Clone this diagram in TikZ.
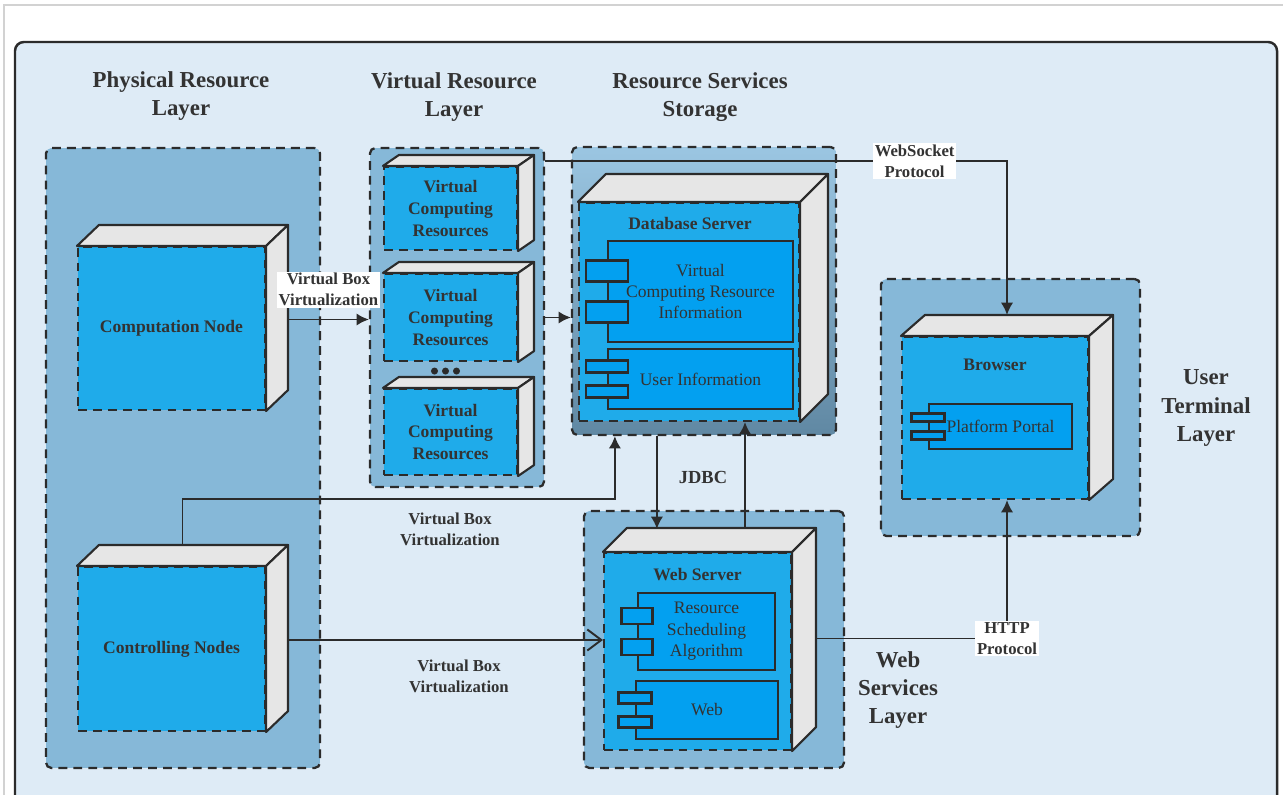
\documentclass[tikz,border=0pt]{standalone}
\usepackage{fontspec}
\setmainfont{Liberation Serif}
\usepackage{tikz}
\usetikzlibrary{arrows.meta,calc,positioning}

\definecolor{linec}{RGB}{43,43,43}
\definecolor{paper}{RGB}{222,235,246}
\definecolor{grpblue}{RGB}{134,184,216}
\definecolor{nodeblue}{RGB}{31,171,234}
\definecolor{compblue}{RGB}{3,160,240}
\definecolor{facegray}{RGB}{230,230,230}
\definecolor{txt}{RGB}{51,51,51}

\tikzset{%
	grpbox/.style    = {draw=linec, fill=grpblue, line width=1.3pt, dash pattern=on 5pt off 3.5pt, rounded corners=3pt, inner sep=0pt},
	frontbox/.style  = {draw=linec, fill=nodeblue, line width=1.2pt, dash pattern=on 5pt off 3.5pt, inner sep=0pt, text=txt, align=center, font=\fontsize{10}{12.5}\selectfont\bfseries},
	sideface/.style  = {draw=linec, fill=facegray, line width=1.2pt, line join=round},
	compbox/.style   = {draw=linec, fill=compblue, line width=1.2pt, inner sep=0pt, text=txt, align=center, font=\fontsize{10}{12.2}\selectfont},
	tabbox/.style    = {draw=linec, fill=compblue, line width=1.2pt},
	laytitle/.style  = {text=txt, align=center, font=\fontsize{13}{16}\selectfont\bfseries},
	nodetitle/.style = {text=txt, font=\fontsize{10}{12}\selectfont\bfseries},
	vlabel/.style    = {text=txt, align=center, font=\fontsize{9.5}{12}\selectfont\bfseries, inner sep=1pt},
	plabel/.style    = {vlabel, fill=white},
	arrow/.style     = {draw=linec, line width=1.1pt, -{Latex[length=7pt,width=7pt]}},
	openarrow/.style = {draw=linec, line width=1.1pt, -{Straight Barb[length=8pt,width=12pt,line width=1.1pt]}},
}

% top and side faces of a 3d node
\newcommand{\boxsides}[3]{%
	\draw[sideface] (#1.north west) -- ++(#2,#3) -- ($(#1.north east)+(#2,#3)$) -- (#1.north east) -- cycle;
	\draw[sideface] (#1.north east) -- ++(#2,#3) -- ($(#1.south east)+(#2,#3)$) -- (#1.south east) -- cycle;}
% the two small tabs of a component
\newcommand{\comptabs}[4]{%
	\foreach \s in {-1,1}
		\draw[tabbox] ($(#1.west)+(-#2/2,\s*#4-#3/2)$) rectangle ++(#2,#3);}

\begin{document}
\begin{tikzpicture}[x=0.02cm,y=-0.02cm]
	\useasboundingbox (0,0) rectangle (1283,794);
	\clip (0,0) rectangle (1283,794);
	\fill[white] (0,0) rectangle (1283,794);
	\draw[gray!35, line width=0.6pt] (4,800) -- (4,5) -- (1290,5);
	\draw[draw=linec, fill=paper, line width=1.4pt, rounded corners=5pt] (15,42) rectangle (1277,860);

	\node [laytitle] (tphys) at (181,96) {Physical Resource\\Layer};
	\node [laytitle] (tvirt) at (454,97) {Virtual Resource\\Layer};
	\node [laytitle] (tstore) at (700,97) {Resource Services\\Storage};
	\node [laytitle] (tterm) at (1206,408) {User\\Terminal\\Layer};
	\node [laytitle] (tweb) at (898,690) {Web\\Services\\Layer};

	\node [grpbox, minimum width=5.48cm, minimum height=12.4cm] (physgrp) at (183,458) {};
	\node [grpbox, minimum width=3.48cm, minimum height=6.78cm] (virtgrp) at (457,317.5) {};
	\node [grpbox, top color={rgb,255:red,155;green,198;blue,226}, bottom color={rgb,255:red,96;green,136;blue,163}, minimum width=5.28cm, minimum height=5.76cm] (storegrp) at (704,291) {};
	\node [grpbox, minimum width=5.18cm, minimum height=5.14cm] (termgrp) at (1010.5,407.5) {};
	\node [grpbox, minimum width=5.2cm, minimum height=5.14cm] (webgrp) at (714,639.5) {};

	% physical nodes
	\node [frontbox, minimum width=3.74cm, minimum height=3.26cm] (comp) at (171.5,328.5) {Computation Node};
	\boxsides{comp}{22}{-21}
	\node [frontbox, minimum width=3.74cm, minimum height=3.28cm] (ctrl) at (171.5,649) {Controlling Nodes};
	\boxsides{ctrl}{22}{-21}

	% virtual resources
	\node [frontbox, minimum width=2.66cm, minimum height=1.66cm] (vcr1) at (450.5,208.5) {Virtual\\Computing\\Resources};
	\boxsides{vcr1}{16}{-11}
	\node [frontbox, minimum width=2.66cm, minimum height=1.74cm] (vcr2) at (450.5,317.5) {Virtual\\Computing\\Resources};
	\boxsides{vcr2}{16}{-11}
	\node [frontbox, minimum width=2.66cm, minimum height=1.72cm] (vcr3) at (450.5,432) {Virtual\\Computing\\Resources};
	\boxsides{vcr3}{16}{-11}
	\foreach \dx in {-11,0,11}
		\fill[linec] ($(vcr2.south)+(\dx-5,9)$) circle (2pt);

	% database server
	\node [frontbox, minimum width=4.4cm, minimum height=4.36cm] (db) at (689,312) {};
	\boxsides{db}{28}{-28}
	\node [nodetitle] (dbname) at ($(db.north)+(1,22)$) {Database Server};
	\node [compbox, minimum width=3.7cm, minimum height=2.02cm] (vcrinfo) at (700.5,291.5) {Virtual\\Computing Resource\\Information};
	\comptabs{vcrinfo}{42}{21}{20.5}
	\node [compbox, minimum width=3.7cm, minimum height=1.2cm] (userinfo) at (700.5,379) {User Information};
	\comptabs{userinfo}{42}{12}{12.5}

	% browser
	\node [frontbox, minimum width=3.72cm, minimum height=3.24cm] (browser) at (995,418) {};
	\boxsides{browser}{24}{-21}
	\node [nodetitle] (brname) at ($(browser.north)+(0,29)$) {Browser};
	\node [compbox, minimum width=2.86cm, minimum height=0.9cm] (portal) at (1000.5,426.5) {Platform Portal};
	\comptabs{portal}{33}{8}{9}

	% web server
	\node [frontbox, minimum width=3.74cm, minimum height=3.94cm] (websrv) at (697.5,651.5) {};
	\boxsides{websrv}{24}{-24}
	\node [nodetitle] (wsname) at ($(websrv.north)+(0,23)$) {Web Server};
	\node [compbox, minimum width=2.74cm, minimum height=1.54cm] (rsa) at (706.5,631.5) {Resource\\Scheduling\\Algorithm};
	\comptabs{rsa}{31}{16}{15.5}
	\node [compbox, minimum width=2.84cm, minimum height=1.16cm] (web) at (707,710) {Web};
	\comptabs{web}{33}{11}{12}

	% connectors
	\draw[arrow] ($(comp.east)+(22,-9)$) coordinate (c1) -- node[plabel, above=6pt] (vb1) {Virtual Box\\Virtualization} (c1 -| virtgrp.west);
	\draw[arrow] (virtgrp.east) -- (virtgrp.east -| storegrp.west);
	\draw[arrow] ($(virtgrp.north east)+(0,14)$) -| node[plabel, pos=0.4] (wsp) {WebSocket\\Protocol} ($(browser.north)+(12,-21)$);
	\draw[arrow] ($(ctrl.north)+(11,-21)$) |- ($(storegrp.south west)+(44,63)$) -- ($(storegrp.south west)+(44,0)$);
	\node [vlabel] (vb2) at (450,529) {Virtual Box\\Virtualization};
	\draw[openarrow] ($(ctrl.east)+(22,-9)$) coordinate (c5) -- (c5 -| websrv.west);
	\node [vlabel] (vb3) at (459,676) {Virtual Box\\Virtualization};

	\coordinate (wstop) at ($(websrv.north)+(0,-23)$);
	\coordinate (j2) at ($(db.south)+(56,0)$);
	\draw[arrow] ($(storegrp.south west)+(86,0)$) coordinate (j1) -- (j1 |- wstop);
	\draw[arrow] (j2 |- wstop) -- (j2);
	\node [vlabel, font=\fontsize{10.5}{12}\selectfont\bfseries] (jdbc) at (703,477) {JDBC};

	\draw[arrow] ($(websrv.east)+(24,-13)$) -| node[plabel, pos=0.5] (http) {HTTP\\Protocol} ($(browser.south)+(12,0)$);
\end{tikzpicture}
\end{document}
